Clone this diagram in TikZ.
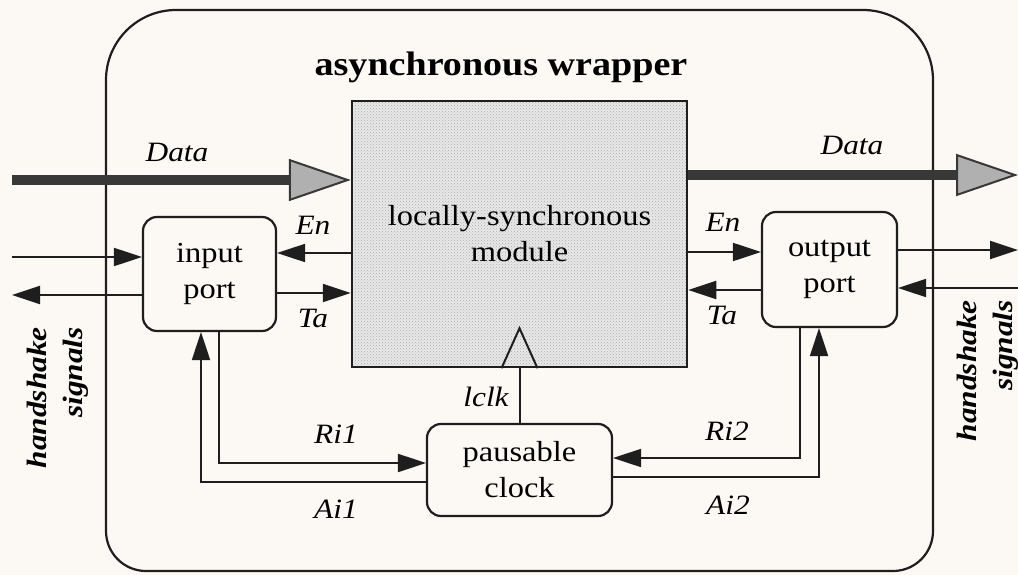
\documentclass[tikz,border=0pt]{standalone}
\usepackage{fontspec}
\setmainfont{Liberation Serif}[FakeStretch=1.12]
\usetikzlibrary{arrows.meta,patterns}
\definecolor{paper}{RGB}{252,249,244}
\definecolor{ink}{RGB}{30,30,30}
\begin{document}
\begin{tikzpicture}[x=1pt,y=-1pt,
  box/.style={draw=ink,line width=2.2pt,rounded corners=14pt,fill=paper,align=center,inner sep=0pt,font=\fontsize{29}{36}\selectfont},
  sig/.style={draw=ink,line width=2pt,-{Triangle[length=28pt,width=18pt]}},
  plainline/.style={draw=ink,line width=2pt},
  datarrow/.style={draw=black!78,line width=10pt,-{Triangle[length=62pt,width=42pt,fill=gray!62,line width=2pt]}},
  lbl/.style={font=\fontsize{28}{32}\selectfont\itshape,inner sep=0pt},
  hs/.style={font=\fontsize{28}{36}\selectfont\bfseries\itshape,rotate=90,align=right,inner sep=0pt}]
\useasboundingbox (0,0) rectangle (1018,575);
\fill[paper] (0,0) rectangle (1018,575);

% wrapper
\draw[ink,line width=2.2pt] (106,300) -- (106,80) arc[start angle=180,end angle=270,radius=70]
  -- (863,10) arc[start angle=270,end angle=360,radius=70]
  -- (933,531) arc[start angle=0,end angle=90,radius=40]
  -- (146,571) arc[start angle=90,end angle=180,radius=40] -- cycle;
\node[font=\fontsize{34}{40}\selectfont\bfseries,inner sep=0pt] (title) at (501,67) {asynchronous wrapper};

% nodes
\node[draw=ink,line width=2.5pt,preaction={fill=gray!18},pattern=crosshatch dots,pattern color=gray!65,
  minimum width=335pt,minimum height=266pt,inner sep=0pt,align=center,font=\fontsize{29}{36}\selectfont]
  (module) at (519.5,234) {locally-synchronous\\module};
\node[box,minimum width=133pt,minimum height=114pt] (inport) at (209.5,274) {input\\port};
\node[box,minimum width=135pt,minimum height=115pt] (outport) at (829.5,269.5) {output\\port};
\node[box,minimum width=185pt,minimum height=92pt] (clock) at (519.5,470) {pausable\\clock};

% coordinates
\coordinate (dinL) at (12,180);
\coordinate (doutR) at (1018,175);
\coordinate (hinL) at (12,257);
\coordinate (houtL) at (12,295);
\coordinate (houtR) at (1018,250);
\coordinate (hinR) at (1018,288);
\coordinate (yEnL) at (0,253);
\coordinate (yTaL) at (0,293);
\coordinate (yEnR) at (0,252);
\coordinate (yTaR) at (0,290);
\coordinate (xAi1) at (201,0);
\coordinate (xRi1) at (219,0);
\coordinate (yRi1) at (0,463);
\coordinate (yAi1) at (0,482);
\coordinate (xRi2) at (800,0);
\coordinate (xAi2) at (819,0);
\coordinate (yRi2) at (0,458);
\coordinate (yAi2) at (0,477);

% data
\draw[datarrow] (dinL) -- (module.west |- dinL);
\draw[datarrow] (module.east |- doutR) -- (doutR);

% handshake lines
\draw[sig] (hinL) -- (inport.west |- hinL);
\draw[sig] (inport.west |- houtL) -- (houtL);
\draw[sig] (outport.east |- houtR) -- (houtR);
\draw[sig] (hinR) -- (outport.east |- hinR);

% En / Ta
\draw[sig] (module.west |- yEnL) -- (inport.east |- yEnL);
\draw[sig] (inport.east |- yTaL) -- (module.west |- yTaL);
\draw[sig] (module.east |- yEnR) -- (outport.west |- yEnR);
\draw[sig] (outport.west |- yTaR) -- (module.east |- yTaR);

% Ri / Ai
\draw[sig] (inport.south -| xRi1) |- (clock.west |- yRi1);
\draw[sig] (clock.west |- yAi1) -| (inport.south -| xAi1);
\draw[sig] (outport.south -| xRi2) |- (clock.east |- yRi2);
\draw[sig] (clock.east |- yAi2) -| (outport.south -| xAi2);

% lclk
\draw[plainline] (clock.north) -- (module.south);
\draw[plainline,line join=miter] ([xshift=-18pt]module.south) -- ([yshift=40pt]module.south) -- ([xshift=18pt]module.south);

% labels
\node[lbl] (ldataL) at (177,152) {Data};
\node[lbl] (ldataR) at (852,145) {Data};
\node[lbl] (lenL) at (313,225) {En};
\node[lbl] (ltaL) at (313,318) {Ta};
\node[lbl] (lenR) at (723,222) {En};
\node[lbl] (ltaR) at (722,315) {Ta};
\node[lbl] (lri1) at (336,434) {Ri1};
\node[lbl] (lai1) at (336,509) {Ai1};
\node[lbl] (lri2) at (727,431) {Ri2};
\node[lbl] (lai2) at (728,505) {Ai2};
\node[lbl] (lclk) at (486,397) {lclk};

\node[hs,anchor=north east] (hsL) at (27,327) {handshake\\signals};
\node[hs,anchor=north east] (hsR) at (957,300) {handshake\\signals};
\end{tikzpicture}
\end{document}
